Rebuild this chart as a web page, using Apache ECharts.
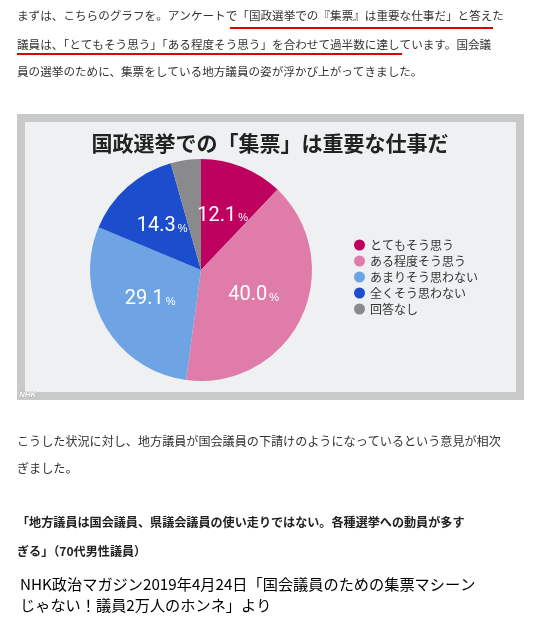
<!DOCTYPE html>
<html><head><meta charset="utf-8">
<script src="https://cdn.jsdelivr.net/npm/echarts@6/dist/echarts.min.js"></script>
<style>html,body{margin:0;padding:0;background:#fff}#c{width:546px;height:627px}</style>
</head><body><div id="c"></div>
<script>
const categories = ['とてもそう思う','ある程度そう思う','あまりそう思わない','全くそう思わない','回答なし'];
const values = [12.1, 40.0, 29.1, 14.3, 4.4];
const colors = ['#be005f','#e07ca9','#6fa4e4','#1c4dcc','#8a898b'];
const title = '国政選挙での「集票」は重要な仕事だ';
const topLines = ['まずは、こちらのグラフを。アンケートで「国政選挙での『集票』は重要な仕事だ」と答えた',
  '議員は、「とてもそう思う」「ある程度そう思う」を合わせて過半数に達しています。国会議',
  '員の選挙のために、集票をしている地方議員の姿が浮かび上がってきました。'];
const midLines = ['こうした状況に対し、地方議員が国会議員の下請けのようになっているという意見が相次','ぎました。'];
const quoteLines = ['「地方議員は国会議員、県議会議員の使い走りではない。各種選挙への動員が多す','ぎる」（70代男性議員）'];
const srcLines = ['NHK政治マガジン2019年4月24日「国会議員のための集票マシーン','じゃない！議員2万人のホンネ」より'];

const F = '"Noto Sans CJK JP", sans-serif';
function txt(s, x, y, size, color, weight) {
  return {type:'text', x:x, y:y, style:{text:s, font:(weight||'normal')+' '+size+'px '+F, fill:color, textVerticalAlign:'middle'}};
}
const g = [
  {type:'rect', shape:{x:17,y:114,width:507,height:286}, style:{fill:'#c9c9c9'}, z:-2},
  {type:'rect', shape:{x:25,y:122,width:491,height:270}, style:{fill:'#eff0f2'}, z:-1},
  {type:'text', x:270, y:143, style:{text:title, font:'bold 21px '+F, fill:'#222', textAlign:'center', textVerticalAlign:'middle'}},
  {type:'text', x:19, y:395, style:{text:'NHK', font:'italic bold 8px sans-serif', fill:'#fff', stroke:'#999', lineWidth:0.5, textVerticalAlign:'middle'}},
  {type:'line', shape:{x1:230,y1:28,x2:493,y2:28}, style:{stroke:'#e00000',lineWidth:2}},
  {type:'line', shape:{x1:17,y1:54,x2:402,y2:54}, style:{stroke:'#e00000',lineWidth:2}}
];
const tys=[16,45,72];
topLines.forEach((s,i)=>g.push(txt(s,17,tys[i],11.6,'#333')));
[441,468].forEach((y,i)=>g.push(txt(midLines[i],17,y,12.1,'#333')));
[522,551].forEach((y,i)=>g.push(txt(quoteLines[i],17,y,12.1,'#222','bold')));
[584,605].forEach((y,i)=>g.push(txt(srcLines[i],20,y,15.2,'#000')));

const chart = echarts.init(document.getElementById('c'));
chart.setOption({
  animation:false,
  color: colors,
  graphic: g,
  legend: {orient:'vertical', left:349, top:234, itemGap:4, itemWidth:11, itemHeight:11, icon:'circle',
    textStyle:{fontSize:12, color:'#333', fontFamily:F}, data: categories},
  series: [{
    type:'pie', center:[201,270], radius:[0,111], startAngle:90, clockwise:true,
    data: categories.map((c,i)=>({name:c, value:values[i]})),
    label:{position:'inside', formatter:p=>'{a|'+p.value.toFixed(1)+'}{b|%}',
      rich:{a:{fontSize:20,color:'#fff',fontFamily:'Roboto, sans-serif'},b:{fontSize:11,color:'#fff',padding:[5,0,0,2]}}},
    labelLine:{show:false},
    itemStyle:{borderWidth:0}
  }]
});
</script></body></html>
